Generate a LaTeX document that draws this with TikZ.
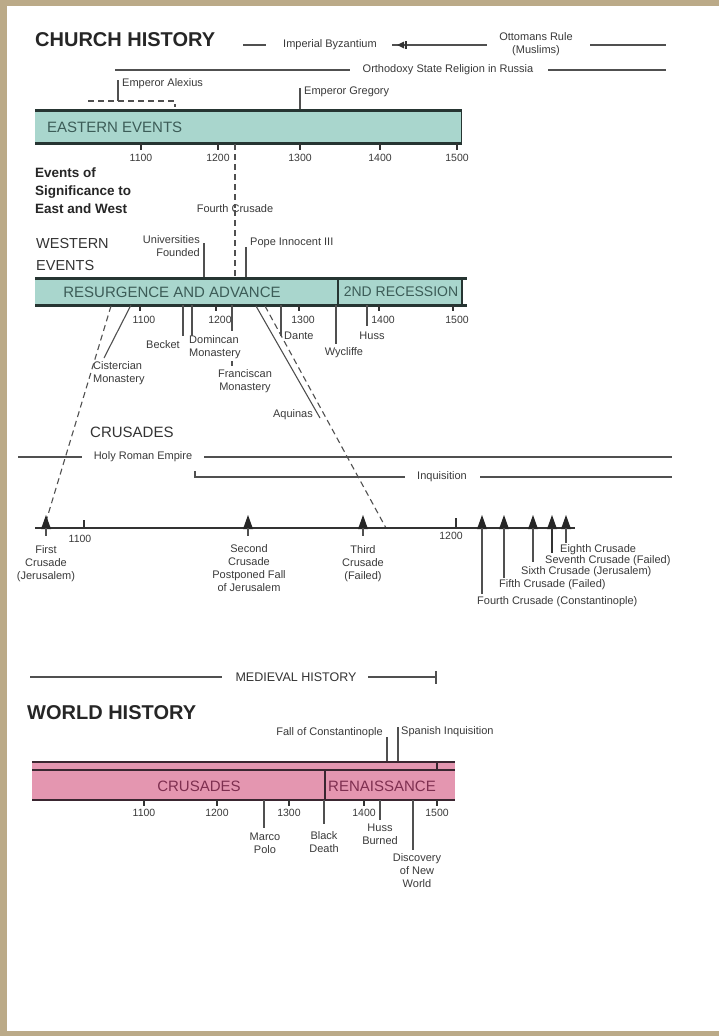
\documentclass[tikz,border=0pt]{standalone}
\usepackage{fontspec}
\setmainfont{Liberation Sans}
\definecolor{frame}{HTML}{BBAA88}
\definecolor{txt}{HTML}{3A3A3A}
\definecolor{lgray}{HTML}{505050}
\definecolor{tealfill}{HTML}{A9D6CD}
\definecolor{tealtxt}{HTML}{3C5C57}
\definecolor{tealdark}{HTML}{263532}
\definecolor{pinkfill}{HTML}{E496B0}
\definecolor{pinktxt}{HTML}{7E2F50}
\definecolor{pinkdark}{HTML}{3A2630}
\begin{document}
\begin{tikzpicture}[x=1pt,y=-1pt,
  lbl/.style={font=\fontsize{11}{13}\selectfont, text=txt, inner sep=0pt, align=center},
  yr/.style={font=\fontsize{10.5}{12}\selectfont, text=txt, inner sep=0pt},
  big/.style={font=\fontsize{15}{18}\selectfont, inner sep=0pt},
  ttl/.style={font=\bfseries\fontsize{20}{24}\selectfont, text=black!85, inner sep=0pt},
  ln/.style={draw=lgray, line width=1.1pt},
  dln/.style={draw=lgray, line width=1.1pt, dash pattern=on 6pt off 4pt},
  tick/.style={draw=black!80, line width=1.6pt},
  tbar/.style={draw=tealdark, line width=3pt},
  pbar/.style={draw=pinkdark, line width=2.6pt},
  tri/.style={fill=black!85}]
% frame
\fill[frame] (0,0) rectangle (719,1036);
\fill[white] (7,6) rectangle (719,1031);
\useasboundingbox (0,0) rectangle (719,1036);

% ---------- CHURCH HISTORY ----------
\node[ttl, anchor=base west] (church) at (35,46) {CHURCH HISTORY};

\node[lbl] (byz) at (330,45) {Imperial Byzantium};
\draw[ln] (243,45) -- (266,45);
\draw[ln] (392,45) -- (487,45);
\fill[black!80] (397,45) -- (404,41.5) -- (404,48.5) -- cycle;
\draw[draw=black!80, line width=1.2pt] (406,41) -- (406,49);
\node[lbl] (ott) at (536,44) {Ottomans Rule\\(Muslims)};
\draw[ln] (590,45) -- (666,45);

\draw[ln] (115,70) -- (350,70);
\node[lbl] (orth) at (448,70) {Orthodoxy State Religion in Russia};
\draw[ln] (548,70) -- (666,70);

\node[lbl, anchor=west] (alex) at (122,84) {Emperor Alexius};
\coordinate (alexT) at (118,80);
\draw[ln] (alexT) -- (118,101);
\draw[dln] (88,101) -- (175,101) -- (175,107);

\node[lbl, anchor=west] (greg) at (304,92) {Emperor Gregory};
\coordinate (gregT) at (300,88);
\draw[ln] (gregT) -- (300,110);

% Eastern bar
\fill[tealfill] (35,110) rectangle (461,143);
\draw[tbar] (35,110) -- (462,110);
\draw[tbar] (35,143) -- (462,143);
\draw[draw=tealdark, line width=1pt] (461,110) -- (461,143);
\node[big, text=tealtxt, anchor=west] (east) at (47,127) {EASTERN EVENTS};
\foreach \x/\y in {141/1100,218/1200,300/1300,380/1400,457/1500}{
  \draw[tick] (\x,143) -- (\x,150);
  \node[yr] at (\x,158) {\y};
}

% Fourth crusade dashed link
\node[lbl] (fourth) at (235,209) {Fourth Crusade};
\draw[dln] (235,144) -- ([yshift=-3pt]fourth.north);
\draw[dln] ([yshift=3pt]fourth.south) -- (235,278);

\node[anchor=north west, inner sep=0pt, align=left, font=\bfseries\fontsize{13.5}{18}\selectfont, text=black!85] (sig) at (35,168) {Events of\\Significance to\\East and West};

\node[anchor=north west, inner sep=0pt, align=left, font=\fontsize{14.5}{22}\selectfont, text=black!80] (west) at (36,238) {WESTERN\\EVENTS};

\node[lbl, anchor=east, align=right] (univ) at (200,246) {Universities\\Founded};
\draw[ln] (204,243) -- (204,278);
\node[lbl, anchor=west] (pope) at (250,243) {Pope Innocent III};
\draw[ln] (246,247) -- (246,278);

% Western bar
\fill[tealfill] (35,278) rectangle (462,305);
\draw[tbar] (35,278) -- (467,278);
\draw[tbar] (35,305) -- (467,305);
\draw[draw=tealdark, line width=1.8pt] (338,278) -- (338,305);
\draw[draw=tealdark, line width=1.8pt] (462,278) -- (462,305);
\node[big, text=tealtxt] (resurg) at (172,292) {RESURGENCE AND ADVANCE};
\node[font=\fontsize{14}{16}\selectfont, inner sep=0pt, text=tealtxt] (rec) at (401,292) {2ND RECESSION};
\foreach \x/\y in {140/1100,216/1200,299/1300,379/1400,453/1500}{
  \draw[tick] (\x,305) -- (\x,311);
  \node[yr] at (\x+4,320) {\y};
}

% Western events
\node[lbl, anchor=north west, align=left] (cist) at (93,361) {Cistercian\\Monastery};
\draw[ln] (131,305) -- (104,358);
\draw[dln] (111,306) -- (44,528);
\node[lbl, anchor=east] (becket) at (180,345) {Becket};
\draw[ln] (183,305) -- (183,336);
\node[lbl, anchor=north west, align=left] (domin) at (189,335) {Domincan\\Monastery};
\draw[ln] (192,305) -- (192,336);
\draw[ln] (232,305) -- (232,331);
\draw[ln] (232,361) -- (232,366);
\node[lbl] (fran) at (245,381) {Franciscan\\Monastery};
\draw[ln] (256,306) -- (320,418);
\node[lbl, anchor=east] (aquinas) at (313,415) {Aquinas};
\draw[dln] (265,306) -- (386,528);
\node[lbl, anchor=west] (dante) at (284,336) {Dante};
\draw[ln] (281,305) -- (281,336);
\node[lbl] (wyc) at (344,353) {Wycliffe};
\draw[ln] (336,305) -- (336,344);
\node[lbl] (huss) at (372,336) {Huss};
\draw[ln] (367,305) -- (367,326);

% ---------- CRUSADES ----------
\node[big, text=black!80, anchor=west] (crus) at (90,432) {CRUSADES};
\node[lbl] (hre) at (143,457) {Holy Roman Empire};
\draw[ln] (18,457) -- (82,457);
\draw[ln] (204,457) -- (672,457);
\node[lbl] (inq) at (442,477) {Inquisition};
\draw[ln] (195,471) -- (195,477) -- (405,477);
\draw[ln] (480,477) -- (672,477);

\draw[draw=black!80, line width=2.6pt] (35,528) -- (575,528);
\draw[tick] (84,528) -- (84,520);
\draw[tick] (456,528) -- (456,518);
\node[yr] at (80,539) {1100};
\node[yr] at (451,536) {1200};
\foreach \x in {46,248,363,482,504,533,552,566}{
  \fill[tri] (\x,515) -- (\x+5,529) -- (\x-5,529) -- cycle;
}
\foreach \x in {46,248,363}{ \draw[ln] (\x,528) -- (\x,536); }
\node[lbl, anchor=north] (c1) at (46,545) {First\\Crusade\\(Jerusalem)};
\node[lbl, anchor=north] (c2) at (249,544) {Second\\Crusade\\Postponed Fall\\of Jerusalem};
\node[lbl, anchor=north] (c3) at (363,545) {Third\\Crusade\\(Failed)};
\draw[ln] (482,528) -- (482,594);
\node[lbl, anchor=north west] (c4) at (477,596) {Fourth Crusade (Constantinople)};
\draw[ln] (504,528) -- (504,578);
\node[lbl, anchor=north west] (c5) at (499,579) {Fifth Crusade (Failed)};
\draw[ln] (533,528) -- (533,562);
\node[lbl, anchor=north west] (c6) at (521,566) {Sixth Crusade (Jerusalem)};
\draw[draw=black!80, line width=1.8pt] (552,528) -- (552,553);
\node[lbl, anchor=north west] (c7) at (545,555) {Seventh Crusade (Failed)};
\draw[ln] (566,528) -- (566,543);
\node[lbl, anchor=north west] (c8) at (560,544) {Eighth Crusade};

% ---------- WORLD HISTORY ----------
\node[font=\fontsize{12.5}{15}\selectfont, inner sep=0pt, text=black!80] (med) at (296,677) {MEDIEVAL HISTORY};
\draw[ln] (30,677) -- (222,677);
\draw[ln] (368,677) -- (436,677);
\draw[ln] (436,671) -- (436,684);

\node[ttl, anchor=base west] (world) at (27,719) {WORLD HISTORY};

\node[lbl, anchor=east] (fall) at (383,733) {Fall of Constantinople};
\draw[ln] (387,737) -- (387,762);
\node[lbl, anchor=west] (span) at (401,732) {Spanish Inquisition};
\draw[ln] (398,727) -- (398,762);

\fill[pinkfill] (32,762) rectangle (455,800);
\draw[pbar] (32,762) -- (455,762);
\draw[draw=pinkdark, line width=2pt] (32,770) -- (455,770);
\draw[pbar] (32,800) -- (455,800);
\draw[draw=pinkdark, line width=1.8pt] (325,770) -- (325,800);
\draw[draw=pinkdark, line width=2pt] (437,762) -- (437,770);
\node[big, text=pinktxt] (pcrus) at (199,786) {CRUSADES};
\node[big, text=pinktxt] (ren) at (382,786) {RENAISSANCE};
\foreach \x/\y in {144/1100,217/1200,289/1300,364/1400,437/1500}{
  \draw[tick] (\x,800) -- (\x,806);
  \node[yr] at (\x,813) {\y};
}
\draw[ln] (264,800) -- (264,828);
\node[lbl, anchor=north] (marco) at (265,833) {Marco\\Polo};
\draw[ln] (324,800) -- (324,824);
\node[lbl, anchor=north] (black) at (324,831) {Black\\Death};
\draw[ln] (380,800) -- (380,820);
\node[lbl, anchor=north] (hussb) at (380,824) {Huss\\Burned};
\draw[ln] (413,800) -- (413,850);
\node[lbl, anchor=north] (disc) at (417,853) {Discovery\\of New\\World};
\end{tikzpicture}
\end{document}
